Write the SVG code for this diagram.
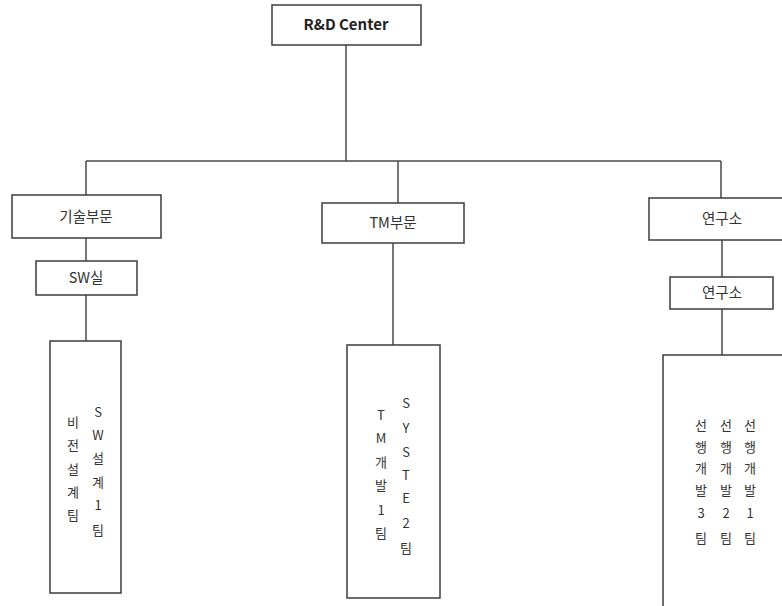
<svg xmlns="http://www.w3.org/2000/svg" width="782" height="606" viewBox="0 0 782 606">
<style>
.box{fill:#fff;stroke:#3c3c3c;stroke-width:1.5}
.con{fill:none;stroke:#4a4a4a;stroke-width:1.5}
text{font-family:"Noto Sans CJK KR","Noto Sans",sans-serif;font-size:13px;fill:#333;text-anchor:middle}
.h{font-size:14.5px}
.b{font-weight:bold;fill:#222;font-size:15px}
</style>
<rect width="782" height="606" fill="#fff"/>
<g id="connectors">
<path class="con" d="M346 45V161M86 161H721M86 161V195M398 161V203M721 161V198"/>
<path class="con" d="M86 238V261M86 295V341"/>
<path class="con" d="M393 243V345"/>
<path class="con" d="M722 240V277M722 309V355"/>
</g>
<g id="rd"><rect class="box" x="272" y="5" width="149" height="40"/><text class="b" x="346" y="30">R&amp;D Center</text></g>
<g id="tech"><rect class="box" x="12" y="195" width="149" height="43"/><text class="h" x="86" y="222">기술부문</text></g>
<g id="sw"><rect class="box" x="36" y="261" width="101" height="34"/><text class="h" x="86" y="283">SW실</text></g>
<g id="vision"><rect class="box" x="50" y="341" width="71" height="252"/>
<text x="73 73 73 73 73" y="427 450 474 497 520">비전설계팀</text>
<text x="98 98 98 98 98 98" y="417 440 463 487 510 535">SW설계1팀</text></g>
<g id="tm"><rect class="box" x="322" y="203" width="142" height="40"/><text class="h" x="393" y="228">TM부문</text></g>
<g id="tmteam"><rect class="box" x="347" y="345" width="93" height="253"/>
<text x="381 381 381 381 381 381" y="420 443 467 490 515 538">TM개발1팀</text>
<text x="406 406 406 406 406 406 406" y="408 433 457 480 503 528 553">SYSTE2팀</text></g>
<g id="lab"><rect class="box" x="649" y="198" width="150" height="42"/><text class="h" x="722" y="224">연구소</text></g>
<g id="lab2"><rect class="box" x="670" y="277" width="103" height="32"/><text class="h" x="722" y="298">연구소</text></g>
<g id="adv"><rect class="box" x="663" y="355" width="140" height="270"/>
<text x="701 701 701 701 701 701" y="430 452 473 495 518 543">선행개발3팀</text>
<text x="726 726 726 726 726 726" y="430 452 473 495 518 543">선행개발2팀</text>
<text x="750 750 750 750 750 750" y="430 452 473 495 518 543">선행개발1팀</text></g>
</svg>
